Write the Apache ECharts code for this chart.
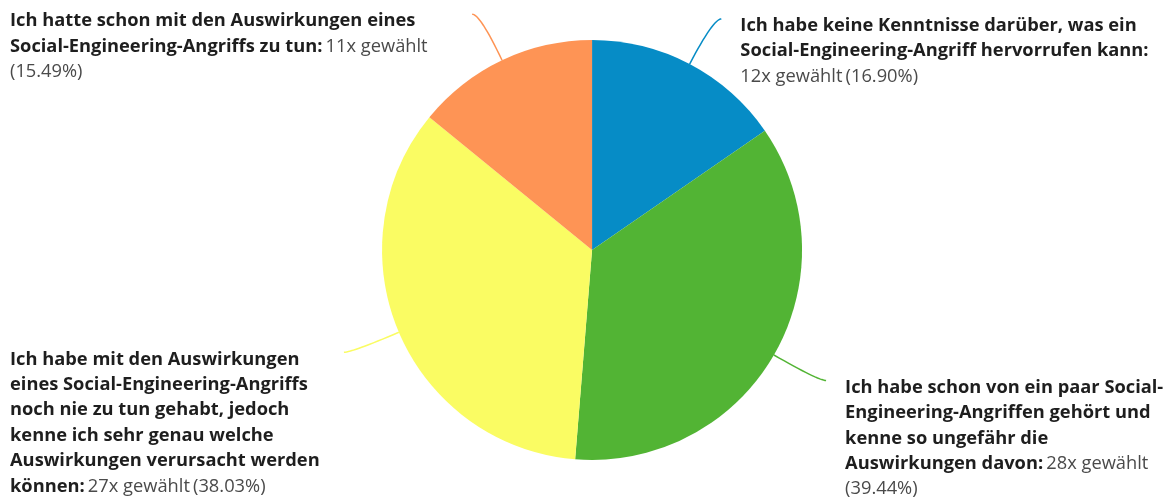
<!DOCTYPE html>
<html lang="de">
<head>
<meta charset="utf-8">
<title>Social-Engineering-Angriffe</title>
<script src="https://cdn.jsdelivr.net/npm/echarts@6/dist/echarts.min.js"></script>
<style>
  html, body { margin: 0; padding: 0; background: #ffffff; }
  #chart { width: 1174px; height: 497px; }
</style>
</head>
<body>
<div id="chart"></div>
<script>
// Answer options (line breaks as they wrap in the labels)
const categories = [
  'Ich habe keine Kenntnisse darüber, was ein\nSocial-Engineering-Angriff hervorrufen kann:',
  'Ich habe schon von ein paar Social-\nEngineering-Angriffen gehört und\nkenne so ungefähr die\nAuswirkungen davon:',
  'Ich habe mit den Auswirkungen\neines Social-Engineering-Angriffs\nnoch nie zu tun gehabt, jedoch\nkenne ich sehr genau welche\nAuswirkungen verursacht werden\nkönnen:',
  'Ich hatte schon mit den Auswirkungen eines\nSocial-Engineering-Angriffs zu tun:'
];
// How often each option was chosen
const counts = [12, 28, 27, 11];
// Share of respondents (multiple choice, so shares exceed 100 % in total)
const percents = ['16.90', '39.44', '38.03', '15.49'];

// Where the "… gewählt (…)" part wraps in each label
const breakBeforeCount = [true, false, false, false];
const breakBeforePercent = [false, true, false, true];

const colors = ['#068cc6', '#52b434', '#fafc63', '#fe9455'];

const FONT = '"Open Sans", sans-serif';
const FONT_SIZE = 18.3;
const LINE_H = 25.4;
const LEFT_EDGE = 10;      // left-hand labels start at the chart edge
const TEXT_GAP = 19;       // right-hand labels sit this far from the line end
const TEXT_DROP = 7;       // first text line sits slightly below the line end
const LINE_OUT = 51;       // radial reach of the leader line beyond the rim
const LINE_SIDE = 8;       // horizontal tail of the leader line

const chart = echarts.init(document.getElementById('chart'), null, { renderer: 'canvas' });

const seriesData = categories.map((name, i) => ({
  name: name,
  value: counts[i],
  itemStyle: { color: colors[i] },
  labelLine: { lineStyle: { color: colors[i] } }
}));

function labelText(params) {
  const i = params.dataIndex;
  const countSep = breakBeforeCount[i] ? '\n' : ' ';
  const pctSep = breakBeforePercent[i] ? '\n' : ' ';
  return '{b|' + categories[i] + '}' + countSep +
    '{n|' + counts[i] + 'x gewählt}' + pctSep +
    '{n|(' + percents[i] + '%)}';
}

// Curved leader line: a quadratic curve from the rim of the slice, bending
// through a point beyond the rim, ending in a short horizontal tail.
function leaderLine(dataIndex) {
  const data = chart.getModel().getSeriesByIndex(0).getData();
  const lay = data.getItemLayout(dataIndex);
  const mid = (lay.startAngle + lay.endAngle) / 2;
  const dx = Math.cos(mid), dy = Math.sin(mid);
  const p0 = [lay.cx + lay.r * dx, lay.cy + lay.r * dy];
  const c = [lay.cx + (lay.r + LINE_OUT) * dx, lay.cy + (lay.r + LINE_OUT) * dy];
  const right = dx >= 0;
  const e = [c[0] + (right ? LINE_SIDE : -LINE_SIDE), c[1]];
  const pts = [];
  const n = 16;
  for (let k = 0; k <= n; k++) {
    const t = k / n, u = 1 - t;
    pts.push([
      u * u * p0[0] + 2 * u * t * c[0] + t * t * e[0],
      u * u * p0[1] + 2 * u * t * c[1] + t * t * e[1]
    ]);
  }
  return { pts: pts, end: e, right: right };
}

chart.setOption({
  animation: false,
  backgroundColor: '#ffffff',
  series: [{
    type: 'pie',
    center: ['50.43%', '50.3%'],
    radius: 210,
    startAngle: 90,
    clockwise: true,
    data: seriesData,
    itemStyle: { borderWidth: 0 },
    label: {
      show: true,
      position: 'outside',
      overflow: 'none',
      formatter: labelText,
      fontFamily: FONT,
      rich: {
        b: {
          fontFamily: FONT,
          fontWeight: 'bold',
          fontSize: FONT_SIZE,
          color: '#1e1e1e',
          lineHeight: LINE_H
        },
        n: {
          fontFamily: FONT,
          fontWeight: 'normal',
          fontSize: FONT_SIZE,
          color: '#4a4a4a',
          lineHeight: LINE_H
        }
      }
    },
    labelLine: {
      show: true,
      length: LINE_OUT,
      length2: LINE_SIDE,
      smooth: false,
      lineStyle: { width: 1.5 }
    },
    labelLayout: function (params) {
      const g = leaderLine(params.dataIndex);
      return {
        x: g.right ? g.end[0] + TEXT_GAP : LEFT_EDGE,
        y: g.end[1] - LINE_H / 2 + TEXT_DROP,
        align: 'left',
        verticalAlign: 'top',
        labelLinePoints: g.pts
      };
    }
  }]
});
</script>
</body>
</html>
